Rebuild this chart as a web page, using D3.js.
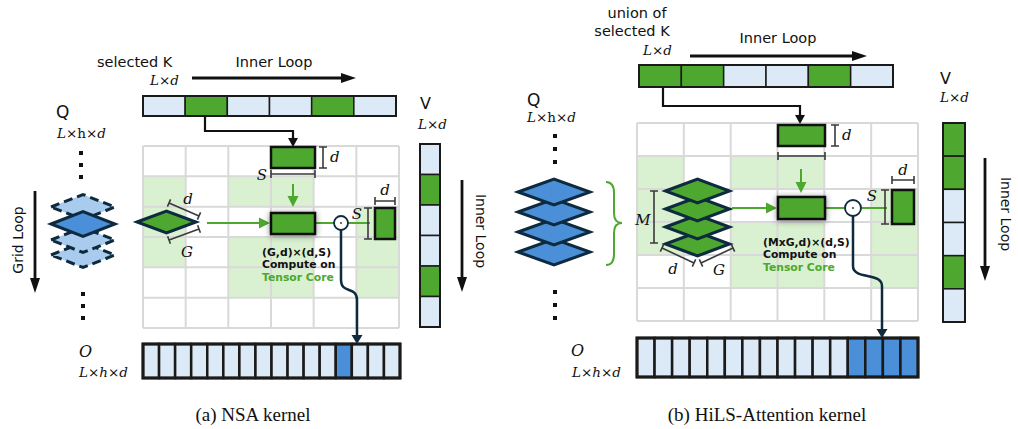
<!DOCTYPE html>
<html><head><meta charset="utf-8">
<script src="https://cdn.jsdelivr.net/npm/d3@7"></script>
<style>body{margin:0;background:#fff}svg{display:block}</style>
</head><body>
<svg id="fig" width="1018" height="429"></svg>
<script>
// Block states: 1 = selected / written block, 0 = untouched block
const nsaKeyBlocks = [0, 1, 0, 0, 1, 0];
const nsaValueBlocks = [0, 1, 0, 0, 1, 0];
const nsaOutputBlocks = [0, 0, 0, 0, 0, 0, 0, 0, 0, 0, 0, 0, 1, 0, 0, 0];
const hilsKeyBlocks = [1, 1, 0, 0, 1, 0];
const hilsValueBlocks = [1, 1, 0, 0, 1, 0];
const hilsOutputBlocks = [0, 0, 0, 0, 0, 0, 0, 0, 0, 0, 0, 0, 1, 1, 1, 1];
// Attention tile mask: rows = query tiles, columns = key tiles
const tileMask = [
  [0, 0, 0, 0, 0, 0],
  [1, 0, 1, 1, 0, 0],
  [1, 0, 0, 0, 0, 1],
  [1, 0, 1, 1, 0, 1],
  [0, 0, 1, 1, 0, 1],
  [0, 0, 0, 0, 0, 0]
];
// Query stack styles: left kernel has one active head among inactive ones, right kernel loads all M heads
const nsaQueryStack = ["ghost", "active", "ghost", "ghost"];
const hilsQueryStack = ["active", "active", "active", "active"];
const hilsGroupStack = [1, 1, 1, 1];
const captions = ["(a) NSA kernel", "(b) HiLS-Attention kernel"];
const computeLabels = [["(G,d)×(d,S)", "Compute on", "Tensor Core"], ["(MxG,d)×(d,S)", "Compute on", "Tensor Core"]];

const C = {
  green: "#4ea72e", light: "#dce9f6", blue: "#4a8fd8", ghost: "#a8cbee",
  tile: "#d9f1d0", grid: "#d9d9d9", navy: "#0e2a3f", dim: "#3a3a3a", ink: "#111"
};
const SANS = "'DejaVu Sans', sans-serif";
const MATH = "'DejaVu Serif', serif";
const SHAPE = 13.5;   // size of shape formulas such as L×d
const SYM = 15;       // size of single dimension symbols

const svg = d3.select("#fig");
const defs = svg.append("defs");
defs.append("filter").attr("id", "shadow")
  .attr("x", "-60%").attr("y", "-100%").attr("width", "220%").attr("height", "300%")
  .append("feDropShadow").attr("dx", 0).attr("dy", 1).attr("stdDeviation", 3.2)
  .attr("flood-color", "#000").attr("flood-opacity", 0.45);

function blockBar(g, data, x0, x1, y0, y1, vertical, onFill, sw) {
  const s = d3.scaleBand().domain(d3.range(data.length)).range(vertical ? [y0, y1] : [x0, x1]);
  g.append("g").selectAll("rect").data(data).join("rect")
    .attr("x", (d, i) => vertical ? x0 : s(i))
    .attr("y", (d, i) => vertical ? s(i) : y0)
    .attr("width", vertical ? x1 - x0 : s.bandwidth())
    .attr("height", vertical ? s.bandwidth() : y1 - y0)
    .attr("fill", d => d ? onFill : C.light)
    .attr("stroke", "#1a1a1a").attr("stroke-width", sw);
  g.append("rect").attr("x", x0).attr("y", y0).attr("width", x1 - x0).attr("height", y1 - y0)
    .attr("fill", "none").attr("stroke", "#1a1a1a").attr("stroke-width", sw + 0.5);
  return s;
}

function tileGrid(g, mask, x0, x1, y0, y1) {
  const xs = d3.scaleBand().domain(d3.range(mask[0].length)).range([x0, x1]);
  const ys = d3.scaleBand().domain(d3.range(mask.length)).range([y0, y1]);
  const cells = mask.flatMap((row, r) => row.map((v, c) => ({ r, c, v })));
  g.append("g").selectAll("rect").data(cells).join("rect")
    .attr("x", d => xs(d.c)).attr("y", d => ys(d.r))
    .attr("width", xs.bandwidth()).attr("height", ys.bandwidth())
    .attr("fill", d => d.v ? C.tile : "#fff");
  g.append("g").selectAll("line").data(d3.range(mask[0].length + 1)).join("line")
    .attr("x1", i => x0 + i * xs.step()).attr("x2", i => x0 + i * xs.step())
    .attr("y1", y0).attr("y2", y1).attr("stroke", C.grid).attr("stroke-width", 2);
  g.append("g").selectAll("line").data(d3.range(mask.length + 1)).join("line")
    .attr("y1", i => y0 + i * ys.step()).attr("y2", i => y0 + i * ys.step())
    .attr("x1", x0).attr("x2", x1).attr("stroke", C.grid).attr("stroke-width", 2);
}

function diamond(g, cx, cy, hw, hh, fill, dashed) {
  g.append("path")
    .attr("d", `M${cx - hw},${cy}L${cx},${cy - hh}L${cx + hw},${cy}L${cx},${cy + hh}Z`)
    .attr("fill", fill).attr("stroke", C.navy).attr("stroke-width", 3)
    .attr("stroke-linejoin", "miter")
    .attr("stroke-dasharray", dashed ? "9,5" : null);
}

function arrow(g, x1, y1, x2, y2, color, w, hl, hw) {
  const len = Math.hypot(x2 - x1, y2 - y1), ux = (x2 - x1) / len, uy = (y2 - y1) / len;
  const bx = x2 - ux * hl, by = y2 - uy * hl;
  g.append("line").attr("x1", x1).attr("y1", y1).attr("x2", bx + ux).attr("y2", by + uy)
    .attr("stroke", color).attr("stroke-width", w);
  g.append("path")
    .attr("d", `M${x2},${y2}L${bx - uy * hw},${by + ux * hw}L${bx + uy * hw},${by - ux * hw}Z`)
    .attr("fill", color);
}

function dim(g, x1, y1, x2, y2, t) {
  const len = Math.hypot(x2 - x1, y2 - y1), px = -(y2 - y1) / len * t, py = (x2 - x1) / len * t;
  const d = `M${x1},${y1}L${x2},${y2}M${x1 - px},${y1 - py}L${x1 + px},${y1 + py}M${x2 - px},${y2 - py}L${x2 + px},${y2 + py}`;
  g.append("path").attr("d", d).attr("stroke", C.dim).attr("stroke-width", 1.6).attr("fill", "none");
}

function mathText(g, x, y, parts, size, anchor) {
  const t = g.append("text").attr("x", x).attr("y", y).attr("font-family", MATH)
    .attr("font-size", size).attr("dominant-baseline", "central")
    .attr("text-anchor", anchor || "start").attr("fill", C.ink);
  parts.forEach(([s, it]) => t.append("tspan").attr("font-style", it ? "italic" : "normal").text(s));
  return t;
}

function sansText(g, x, y, s, size, anchor, rot) {
  const t = g.append("text").attr("font-family", SANS).attr("font-size", size)
    .attr("dominant-baseline", "central").attr("text-anchor", anchor || "start").attr("fill", C.ink)
    .text(s);
  if (rot) t.attr("transform", `translate(${x},${y}) rotate(${rot})`);
  else t.attr("x", x).attr("y", y);
  return t;
}

function computeNote(g, x, y, lines) {
  lines.forEach((s, i) => {
    g.append("text").attr("x", x).attr("y", y + i * 12.5).attr("font-family", SANS)
      .attr("font-size", 10.8).attr("font-weight", "bold").attr("dominant-baseline", "central")
      .attr("fill", i === 2 ? C.green : C.ink).text(s);
  });
}

function greenBlock(g, x, y, w, h, shadow) {
  g.append("rect").attr("x", x).attr("y", y).attr("width", w).attr("height", h)
    .attr("fill", C.green).attr("stroke", C.ink).attr("stroke-width", 2.5)
    .attr("filter", shadow ? "url(#shadow)" : null);
}

function dotOp(g, cx, cy, r) {
  g.append("circle").attr("cx", cx).attr("cy", cy).attr("r", r)
    .attr("fill", "#fff").attr("stroke", C.navy).attr("stroke-width", 1.8);
  g.append("circle").attr("cx", cx).attr("cy", cy).attr("r", 0.9).attr("fill", C.navy);
}

function navyRoute(g, x0, y0, yBend, x1, yEnd) {
  g.append("path")
    .attr("d", `M${x0},${y0}V${yBend}C${x0},${yBend + 14} ${x1},${yBend + 6} ${x1},${yBend + 20}V${yEnd - 8}`)
    .attr("fill", "none").attr("stroke", C.navy).attr("stroke-width", 2.5);
  arrow(g, x1, yEnd - 9, x1, yEnd, C.navy, 2.5, 9, 5.5);
}

function dots(g, x, ys) {
  g.append("g").selectAll("rect").data(ys).join("rect")
    .attr("x", x - 2).attr("y", d => d - 2).attr("width", 4).attr("height", 4).attr("fill", C.ink);
}

/* ---------- (a) NSA kernel ---------- */
const A = svg.append("g");
tileGrid(A, tileMask, 143, 399, 146, 328);
blockBar(A, nsaKeyBlocks, 143, 396, 96, 116, false, C.green, 1.5);
blockBar(A, nsaValueBlocks, 420, 440, 144, 327, true, C.green, 1.5);
blockBar(A, nsaOutputBlocks, 143, 400, 344, 378, false, C.blue, 2.5);

sansText(A, 97, 62, "selected K", 14.5);
mathText(A, 150, 80, [["L", 1], ["×", 0], ["d", 1]], SHAPE);
sansText(A, 274, 62, "Inner Loop", 14.5, "middle");
arrow(A, 192, 78, 356, 78, C.ink, 2.8, 15, 5);

A.append("path").attr("d", "M205,116V131H293V139").attr("fill", "none")
  .attr("stroke", C.ink).attr("stroke-width", 2.2);
arrow(A, 293, 137, 293, 147, C.ink, 2.2, 9, 5);

sansText(A, 56, 112, "Q", 17);
mathText(A, 57, 133, [["L", 1], ["×", 0], ["h", 0], ["×", 0], ["d", 1]], SHAPE);
sansText(A, 420, 103, "V", 16);
mathText(A, 418, 124, [["L", 1], ["×", 0], ["d", 1]], SHAPE);
mathText(A, 79, 351, [["O", 1]], 16);
mathText(A, 79, 372, [["L", 1], ["×", 0], ["h", 1], ["×", 0], ["d", 1]], SHAPE);

dots(A, 81, [153, 165, 177]);
dots(A, 83, [294, 306, 318]);

// query heads along the grid loop (active head drawn last)
const nsaY = [207, 224, 240, 255];
[0, 3, 2, 1].forEach(i => diamond(A, 83, nsaY[i], 32, 12.5,
  nsaQueryStack[i] === "active" ? C.blue : C.ghost, nsaQueryStack[i] !== "active"));

sansText(A, 18, 240, "Grid Loop", 14, "middle", -90);
arrow(A, 35, 191, 35, 293, C.ink, 2.8, 15, 5);

diamond(A, 166.5, 222, 29.5, 11, C.green, false);
dim(A, 169, 203, 199, 216, 4);
dim(A, 169, 240, 199, 229, 4);
mathText(A, 188, 199, [["d", 1]], SYM, "middle");
mathText(A, 187, 252, [["G", 1]], SYM, "middle");

arrow(A, 207, 223, 270, 223, C.green, 2, 11, 5.5);
arrow(A, 293, 184, 293, 207, C.green, 2, 11, 5.5);

greenBlock(A, 271, 147, 44, 21, false);
dim(A, 323, 147, 323, 168, 4);
mathText(A, 330, 157, [["d", 1]], SYM);
dim(A, 271, 174, 315, 174, 4);
mathText(A, 262, 175, [["S", 1]], SYM, "middle");

A.append("line").attr("x1", 315).attr("x2", 370).attr("y1", 223).attr("y2", 223)
  .attr("stroke", C.green).attr("stroke-width", 2);
greenBlock(A, 271, 213, 44, 21, true);
navyRoute(A, 341, 230, 280, 357, 344);
dotOp(A, 341, 223, 7);

greenBlock(A, 375, 208, 20, 31, false);
dim(A, 368, 208, 368, 239, 4);
mathText(A, 357, 214, [["S", 1]], SYM, "middle");
dim(A, 375, 201, 395, 201, 4);
mathText(A, 385, 190, [["d", 1]], SYM, "middle");

computeNote(A, 262, 252, computeLabels[0]);

sansText(A, 481, 231, "Inner Loop", 14, "middle", 90);
arrow(A, 462, 180, 462, 292, C.ink, 2.8, 15, 5);

A.append("text").attr("x", 253).attr("y", 414).attr("text-anchor", "middle")
  .attr("dominant-baseline", "central").attr("font-family", "'Liberation Serif', serif")
  .attr("font-size", 19).attr("fill", C.ink).text(captions[0]);

/* ---------- (b) HiLS-Attention kernel ---------- */
const B = svg.append("g");
tileGrid(B, tileMask, 637, 918, 123, 321);
blockBar(B, hilsKeyBlocks, 639, 893, 65, 87, false, C.green, 1.5);
blockBar(B, hilsValueBlocks, 943, 965, 123, 322, true, C.green, 1.5);
blockBar(B, hilsOutputBlocks, 637, 918, 338, 377, false, C.blue, 2.5);

sansText(B, 637, 13, "union of", 14.5, "middle");
sansText(B, 632, 31, "selected K", 14.5, "middle");
mathText(B, 643, 50, [["L", 1], ["×", 0], ["d", 1]], SHAPE);
sansText(B, 778, 38, "Inner Loop", 14.5, "middle");
arrow(B, 690, 56, 867, 56, C.ink, 2.8, 15, 5);

B.append("path").attr("d", "M663,87V106H800V116").attr("fill", "none")
  .attr("stroke", C.ink).attr("stroke-width", 2.2);
arrow(B, 800, 114, 800, 124, C.ink, 2.2, 9, 5);

sansText(B, 527, 100, "Q", 17);
mathText(B, 527, 117, [["L", 1], ["×", 0], ["h", 0], ["×", 0], ["d", 1]], SHAPE);
sansText(B, 940, 78, "V", 16);
mathText(B, 940, 97, [["L", 1], ["×", 0], ["d", 1]], SHAPE);
mathText(B, 571, 350, [["O", 1]], 16);
mathText(B, 572, 372, [["L", 1], ["×", 0], ["h", 1], ["×", 0], ["d", 1]], SHAPE);

dots(B, 555, [136, 149, 162]);
dots(B, 555, [292, 305, 318]);

const hilsY = [192, 212, 232, 252];
d3.range(hilsQueryStack.length).reverse().forEach(i =>
  diamond(B, 554, hilsY[i], 36, 13, hilsQueryStack[i] === "active" ? C.blue : C.ghost, false));

B.append("path")
  .attr("d", "M606,182Q614,182 614,193V213Q614,223 622,223Q614,223 614,233V254Q614,265 606,265")
  .attr("fill", "none").attr("stroke", C.green).attr("stroke-width", 2);

const grpY = [191, 209, 227, 244];
d3.range(hilsGroupStack.length).reverse().forEach(i => diamond(B, 697.5, grpY[i], 32, 12, C.green, false));
dim(B, 654, 191, 654, 243, 4);
mathText(B, 643, 220, [["M", 1]], SYM, "middle");
dim(B, 662, 248, 694, 263, 4);
dim(B, 701, 263, 733, 248, 4);
mathText(B, 673, 269, [["d", 1]], SYM, "middle");
mathText(B, 719, 270, [["G", 1]], SYM, "middle");

arrow(B, 732, 208, 777, 208, C.green, 2, 11, 5.5);
arrow(B, 801, 169, 801, 193, C.green, 2, 11, 5.5);

greenBlock(B, 778, 125, 47, 21, false);
dim(B, 835, 125, 835, 146, 4);
mathText(B, 842, 135, [["d", 1]], SYM);
dim(B, 778, 156, 825, 156, 4);

B.append("line").attr("x1", 825).attr("x2", 887).attr("y1", 208).attr("y2", 208)
  .attr("stroke", C.green).attr("stroke-width", 2);
greenBlock(B, 778, 197, 47, 22, true);
navyRoute(B, 853, 216, 266, 882, 338);
dotOp(B, 853, 208, 8);

greenBlock(B, 892, 190, 22, 34, false);
dim(B, 885, 190, 885, 224, 4);
mathText(B, 872, 196, [["S", 1]], SYM, "middle");
dim(B, 892, 180, 914, 180, 4);
mathText(B, 903, 170, [["d", 1]], SYM, "middle");

computeNote(B, 763, 242, computeLabels[1]);

sansText(B, 1006, 214, "Inner Loop", 14, "middle", 90);
arrow(B, 985, 158, 985, 281, C.ink, 2.8, 15, 5);

B.append("text").attr("x", 767).attr("y", 414).attr("text-anchor", "middle")
  .attr("dominant-baseline", "central").attr("font-family", "'Liberation Serif', serif")
  .attr("font-size", 19).attr("fill", C.ink).text(captions[1]);
</script>
</body></html>
